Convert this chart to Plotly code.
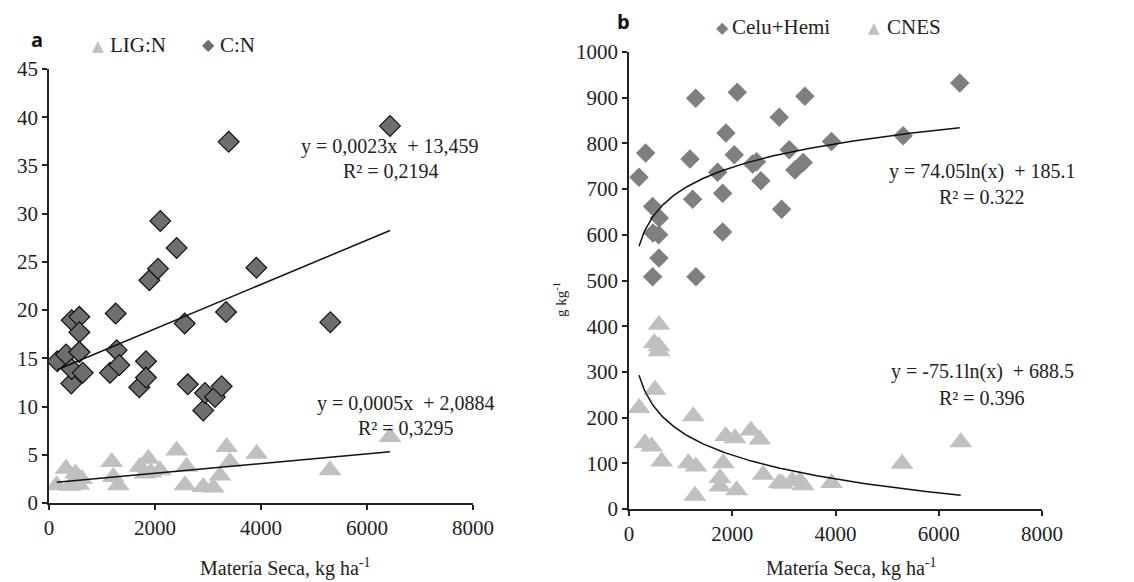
import numpy as np
import plotly.graph_objects as go

W, H = 1134, 582

# ---------------- Panel a data ----------------
cn_x = [157, 321, 421, 428, 428, 572, 572, 572, 572, 636, 1151, 1258, 1277, 1327,
        1704, 1830, 1830, 1893, 2057, 2100, 2409, 2560, 2619, 2911, 2943, 3132,
        3258, 3340, 3390, 3912, 5308, 6434]
cn_y = [14.7, 15.4, 12.4, 13.9, 18.95, 19.3, 17.7, 15.65, 15.65, 13.5, 13.5, 19.65, 15.85, 14.3,
        12.0, 14.7, 13.0, 23.1, 24.3, 29.25, 26.45, 18.6, 12.3, 9.6, 11.4, 11.0,
        12.1, 19.8, 37.45, 24.4, 18.75, 39.1]

lig_x = [145, 321, 400, 472, 500, 560, 617, 1183, 1213, 1308, 1717, 1811, 1874, 1920,
         2094, 2409, 2566, 2597, 2911, 3100, 3226, 3352, 3415, 3918, 5302, 6434]
lig_y = [1.85, 3.55, 1.8, 2.2, 3.05, 1.9, 2.5, 4.25, 2.7, 1.85, 3.75, 3.05, 4.6, 3.2,
         3.4, 5.45, 1.85, 3.75, 1.65, 1.6, 2.85, 5.8, 4.25, 5.1, 3.4, 6.85]

# ---------------- Panel b data ----------------
ch_x = [194, 322, 458, 465, 574, 581, 587, 458, 1181, 1233, 1291, 1297, 1717, 1814,
        1814, 1878, 2039, 2097, 2395, 2470, 2555, 2910, 2956, 3104, 3213, 3374, 3407,
        3923, 5310, 6407]
ch_y = [726, 779, 662, 604, 600, 549, 637, 508, 766, 678, 899, 508, 737, 691,
        606, 823, 775, 912, 755, 760, 718, 857, 656, 786, 742, 758, 903,
        804, 817, 932]

cnes_x = [194, 310, 439, 490, 503, 581, 581, 581, 632, 1149, 1245, 1278, 1297, 1762,
          1762, 1826, 1872, 2052, 2084, 2361, 2535, 2600, 2910, 2970, 3161, 3310,
          3374, 3923, 5290, 6426]
cnes_y = [221, 144, 137, 363, 261, 403, 356, 345, 104, 100, 203, 29, 93, 68,
          49, 100, 160, 155, 41, 172, 152, 75, 57, 55, 62, 62,
          52, 57, 99, 146]

# trend-line coefficients shown on the chart
cn_fit = (0.0023, 13.459)
lig_fit = (0.0005, 2.0884)
ch_fit = (74.05, 185.1)
cnes_fit = (-75.1, 688.5)

x_ticks = [0, 2000, 4000, 6000, 8000]

SERIF = "Liberation Serif, Times New Roman, serif"
TXT = "#222222"
DARK = "#6e6e6e"
MID = "#7f7f7f"
LIGHT = "#c0c0c0"

fig = go.Figure()

fig.add_trace(go.Scatter(x=lig_x, y=lig_y, mode="markers", xaxis="x", yaxis="y",
                         marker=dict(symbol="triangle-up", size=20, color=LIGHT,
                                     line=dict(width=0)), name="LIG:N"))
fig.add_trace(go.Scatter(x=cn_x, y=cn_y, mode="markers", xaxis="x", yaxis="y",
                         marker=dict(symbol="diamond", size=16, color=DARK,
                                     line=dict(width=1.2, color="#111111")), name="C:N"))

fig.add_trace(go.Scatter(x=ch_x, y=ch_y, mode="markers", xaxis="x2", yaxis="y2",
                         marker=dict(symbol="diamond", size=15, color=MID,
                                     line=dict(width=0)), name="Celu+Hemi"))
fig.add_trace(go.Scatter(x=cnes_x, y=cnes_y, mode="markers", xaxis="x2", yaxis="y2",
                         marker=dict(symbol="triangle-up", size=20, color=LIGHT,
                                     line=dict(width=0)), name="CNES"))

def lin_line(xs, fit):
    xx = np.array([min(xs), max(xs)], dtype=float)
    return xx, fit[0] * xx + fit[1]

def log_line(xs, fit):
    xx = np.linspace(min(xs), max(xs), 200)
    return xx, fit[0] * np.log(xx) + fit[1]

for xs, fit, ax, ay, fn in [(cn_x, cn_fit, "x", "y", lin_line),
                            (lig_x, lig_fit, "x", "y", lin_line),
                            (ch_x, ch_fit, "x2", "y2", log_line),
                            (cnes_x, cnes_fit, "x2", "y2", log_line)]:
    lx, ly = fn(xs, fit)
    fig.add_trace(go.Scatter(x=lx, y=ly, mode="lines", xaxis=ax, yaxis=ay,
                             line=dict(color="#111111", width=1.5), hoverinfo="skip"))

def px_x(p):
    return p / W

def px_y(p):
    return 1 - p / H

axis_common = dict(showgrid=False, zeroline=False, showline=True, linecolor="#222222",
                   linewidth=1.5, ticks="outside", ticklen=5, tickwidth=1.5,
                   tickcolor="#222222", automargin=False,
                   tickfont=dict(family=SERIF, size=21, color=TXT))

fig.update_layout(
    width=W, height=H, margin=dict(l=0, r=0, t=0, b=0, pad=0),
    font=dict(family=SERIF, color=TXT),
    paper_bgcolor="white", plot_bgcolor="white", showlegend=False,
    xaxis=dict(domain=[px_x(49), px_x(473)], range=[0, 8000], tickvals=x_ticks,
               anchor="y", **axis_common),
    yaxis=dict(domain=[px_y(503), px_y(69)], range=[0, 45], dtick=5,
               anchor="x", **axis_common),
    xaxis2=dict(domain=[px_x(629), px_x(1042)], range=[0, 8000], tickvals=x_ticks,
                anchor="y2", **axis_common),
    yaxis2=dict(domain=[px_y(509), px_y(52)], range=[0, 1000], dtick=100,
                anchor="x2", **axis_common),
)

ann = []
def add_text(x, y, text, size=21, xanchor="center", family=SERIF, color=TXT, angle=0):
    ann.append(dict(x=px_x(x), y=px_y(y), xref="paper", yref="paper", text=text,
                    showarrow=False, xanchor=xanchor, yanchor="middle", textangle=angle,
                    font=dict(family=family, size=size, color=color)))

NB = "\u00a0"
add_text(390, 146, f"y = 0,0023x{NB}{NB}+ 13,459", size=20)
add_text(391, 171, "R² = 0,2194", size=20)
add_text(406, 403, f"y = 0,0005x{NB}{NB}+ 2,0884", size=20)
add_text(406, 428, "R² = 0,3295", size=20)
add_text(982, 171, f"y = 74.05ln(x){NB}{NB}+ 185.1", size=20)
add_text(982, 197, "R² = 0.322", size=20)
add_text(982, 372, f"y = -75.1ln(x){NB}{NB}+ 688.5", size=20)
add_text(982, 398, "R² = 0.396", size=20)

add_text(285, 567, "Matería Seca, kg ha<sup>-1</sup>", size=20)
add_text(851, 567, "Matería Seca, kg ha<sup>-1</sup>", size=20)
add_text(560, 300, "g kg<sup>-1</sup>", size=15, angle=-90)

add_text(37, 40, "<b>a</b>", size=20, family="Open Sans", color="#111111")
add_text(623, 22, "<b>b</b>", size=20, family="Open Sans", color="#111111")

add_text(98, 46, "▲", size=15, family="DejaVu Sans", color=LIGHT)
add_text(108, 45, "LIG:N", xanchor="left")
add_text(208, 45, "◆", size=16, family="DejaVu Sans", color=DARK)
add_text(218, 45, "C:N", xanchor="left")
add_text(722, 27, "◆", size=16, family="DejaVu Sans", color=MID)
add_text(730, 27, "Celu+Hemi", xanchor="left")
add_text(874, 28, "▲", size=15, family="DejaVu Sans", color=LIGHT)
add_text(885, 27, "CNES", xanchor="left")

fig.update_layout(annotations=ann)
fig.write_html("out.html", config={"displayModeBar": False},
               post_script="document.body.style.margin='0px';")
